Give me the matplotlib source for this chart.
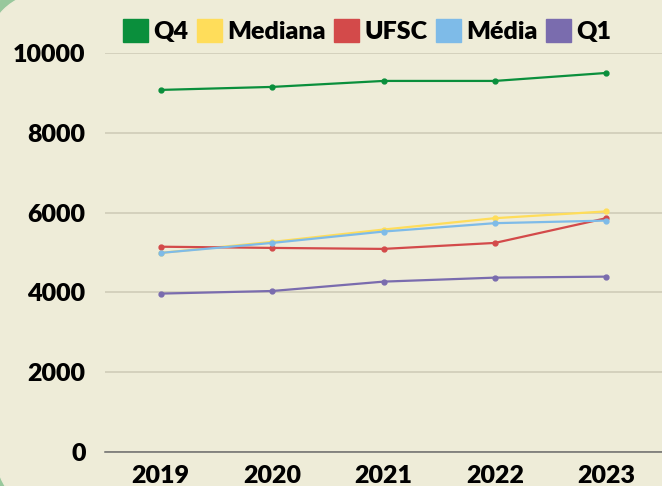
import matplotlib.pyplot as plt
import matplotlib.patches as patches
from matplotlib.transforms import IdentityTransform

anos = [2019, 2020, 2021, 2022, 2023]
q4 = [9075, 9150, 9300, 9300, 9500]
mediana = [4990, 5265, 5575, 5860, 6030]
ufsc = [5145, 5115, 5090, 5240, 5860]
media = [4990, 5240, 5525, 5735, 5800]
q1 = [3970, 4035, 4270, 4370, 4395]

series = [
  ("Q4", q4, "#0a8f3c"),
  ("Mediana", mediana, "#ffdd5a"),
  ("UFSC", ufsc, "#d34a4a"),
  ("Média", media, "#7ebbe8"),
  ("Q1", q1, "#7a6cae"),
]

bg = "#eeecd8"
green = "#98c89c"
font = dict(family="Lato", weight="heavy", size=18)

fig = plt.figure(figsize=(6.62, 4.86), dpi=100, facecolor=bg)

# green corners behind the beige card (pixel coords, origin bottom-left)
H = 486
corners = [
  patches.Rectangle((0, H - 30), 30, 30, color=green),
  patches.Circle((43, H - 49), 55.5, color=bg),
  patches.Rectangle((0, 0), 20, 20, color=green),
  patches.Circle((52.5, 30), 56, color=bg),
]
for i, p in enumerate(corners):
  p.set_transform(IdentityTransform())
  p.set_zorder(-2 + i * 0.1)
  fig.patches.append(p)

ax = fig.add_axes([105/662, 34/486, 557/662, 399/486])
ax.set_facecolor("none")

for name, vals, color in series:
  ax.plot(anos, vals, color=color, lw=1.6, marker="o", ms=3.5, label=name, zorder=3)

ax.set_xlim(2018.5, 2023.5)
ax.set_ylim(0, 10000)
ax.set_yticks([0, 2000, 4000, 6000, 8000, 10000])
ax.set_xticks(anos)
ax.yaxis.grid(True, color="#cdc9b6", lw=1.1)
ax.set_axisbelow(True)
for s in ["top", "right", "left"]:
  ax.spines[s].set_visible(False)
ax.spines["bottom"].set_color("#6b6b6b")
ax.spines["bottom"].set_linewidth(1.1)
ax.tick_params(length=0)
ax.tick_params(axis="y", pad=14)
ax.tick_params(axis="x", pad=9)
for lab in ax.get_xticklabels() + ax.get_yticklabels():
  lab.set_fontfamily("Lato")
  lab.set_fontweight("heavy")
  lab.set_fontsize(18)
  lab.set_color("black")

handles = [patches.Patch(color=c, label=n) for n, v, c in series]
leg = fig.legend(handles=handles, loc="center", bbox_to_anchor=(367/662, 1 - 31/486),
                 ncol=5, frameon=False, prop=font, handlelength=1.0, handleheight=1.05,
                 handletextpad=0.2, columnspacing=0.35, borderaxespad=0)

plt.savefig("out.png", dpi=100, facecolor=bg)
